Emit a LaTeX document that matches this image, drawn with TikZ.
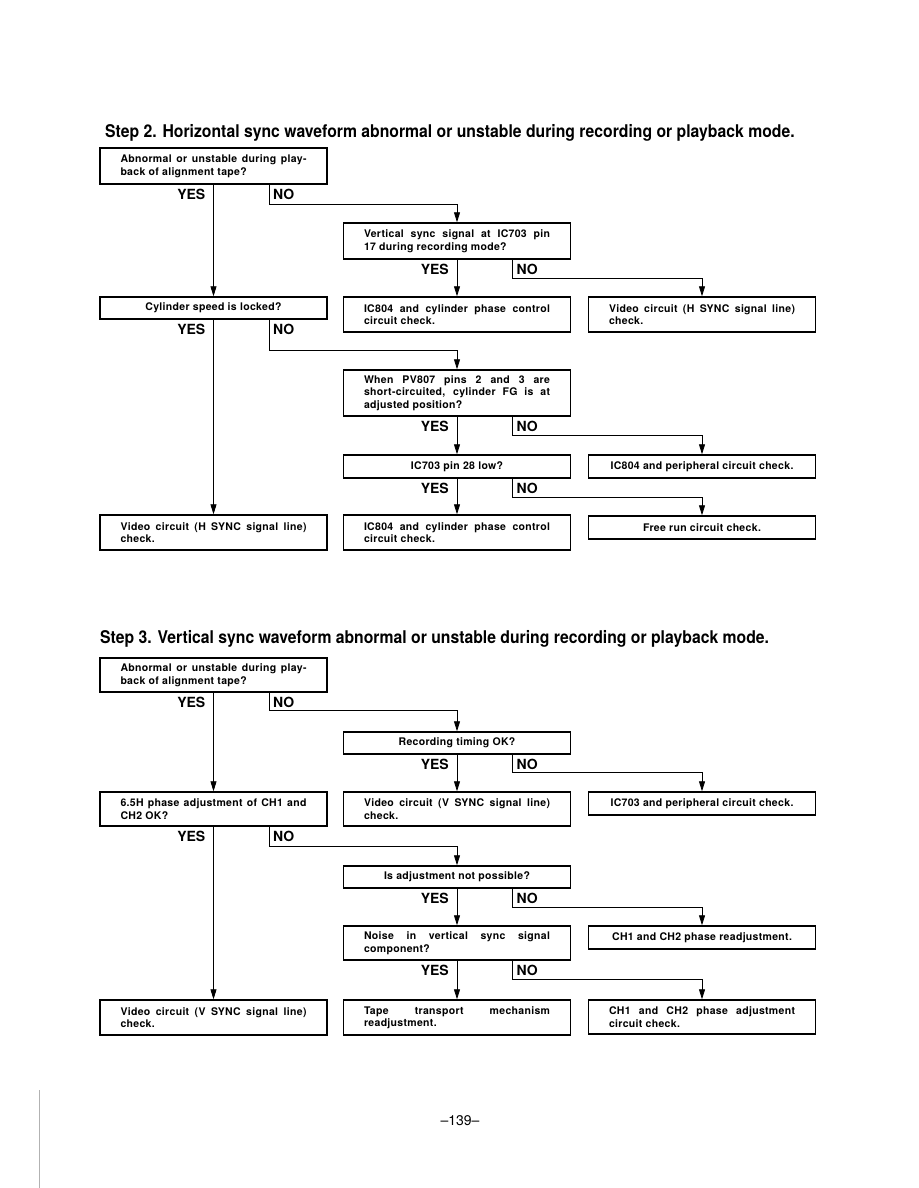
\documentclass[tikz,border=0pt]{standalone}
\usepackage{fontspec}
\setmainfont{TeX Gyre Heros}
\newfontfamily\bxf[LetterSpace=3]{TeX Gyre Heros}
\usetikzlibrary{arrows.meta}
\newcommand\jtwo[2]{\parbox{186pt}{\baselineskip=12.5pt\makebox[186pt][s]{#1}\\#2}}
\newcommand\jthree[3]{\parbox{186pt}{\baselineskip=12.5pt\makebox[186pt][s]{#1}\\\makebox[186pt][s]{#2}\\#3}}
\tikzset{
  box/.style={draw, line width=1.4pt, inner sep=0pt, minimum width=227pt,
    font=\bxf\fontsize{10.5}{12.5}\selectfont\bfseries},
  yn/.style={font=\fontsize{14}{14}\selectfont\bfseries, inner sep=0pt},
  conn/.style={line width=0.8pt},
  arr/.style={conn, -{Triangle[width=6pt,length=10pt]}},
  ttl/.style={font=\fontsize{17.5}{18}\selectfont\bfseries, inner sep=0pt, anchor=base west}
}
\begin{document}
\begin{tikzpicture}[x=1pt,y=-1pt]
\useasboundingbox (0,0) rectangle (918,1188);
% ---------------- Step 2 ----------------
\node[ttl] (t2) at (105,138) {\scalebox{0.9}[1]{Step 2. Horizontal sync waveform abnormal or unstable during recording or playback mode.}};
\node[box, minimum height=36pt] (a1) at (213.5,166) {\jtwo{Abnormal or unstable during play-}{back of alignment tape?}};
\node[box, minimum height=36pt] (b1) at (457,241) {\jtwo{Vertical sync signal at IC703 pin}{17 during recording mode?}};
\node[box, minimum height=22pt] (a2) at (213.5,308) {Cylinder speed is locked?};
\node[box, minimum height=35pt] (b2) at (457,314.5) {\jtwo{IC804 and cylinder phase control}{circuit check.}};
\node[box, minimum height=35pt] (c2) at (702,314.5) {\jtwo{Video circuit (H SYNC signal line)}{check.}};
\node[box, minimum height=46pt] (b3) at (457,393) {\jthree{When PV807 pins 2 and 3 are}{short-circuited, cylinder FG is at}{adjusted position?}};
\node[box, minimum height=23pt] (b4) at (457,466.5) {IC703 pin 28 low?};
\node[box, minimum height=23pt] (c4) at (702,466.5) {IC804 and peripheral circuit check.};
\node[box, minimum height=35pt] (a5) at (213.5,532.5) {\jtwo{Video circuit (H SYNC signal line)}{check.}};
\node[box, minimum height=35pt] (b5) at (457,532.5) {\jtwo{IC804 and cylinder phase control}{circuit check.}};
\node[box, minimum height=23pt] (c5) at (702,527.5) {Free run circuit check.};
% labels
\foreach \n in {a1,b1,a2,b3,b4}{
  \node[yn, anchor=east] (\n y) at ([xshift=-8pt,yshift=-10pt]\n.south) {YES};
  \node[yn, anchor=west] (\n n) at ([xshift=59.5pt,yshift=-10pt]\n.south) {NO};
}
% connectors
\draw[arr] (a1.south) -- (a2.north);
\draw[arr] ([xshift=55.5pt]a1.south) -- ++(0,20) -| (b1.north);
\draw[arr] (b1.south) -- (b2.north);
\draw[arr] ([xshift=55.5pt]b1.south) -- ++(0,19) -| (c2.north);
\draw[arr] (a2.south) -- (a5.north);
\draw[arr] ([xshift=55.5pt]a2.south) -- ++(0,31) -| (b3.north);
\draw[arr] (b3.south) -- (b4.north);
\draw[arr] ([xshift=55.5pt]b3.south) -- ++(0,19) -| (c4.north);
\draw[arr] (b4.south) -- (b5.north);
\draw[arr] ([xshift=55.5pt]b4.south) -- ++(0,19) -| (c5.north);
% ---------------- Step 3 ----------------
\node[ttl] (t3) at (100,643) {\scalebox{0.9}[1]{Step 3. Vertical sync waveform abnormal or unstable during recording or playback mode.}};
\node[box, minimum height=34pt] (d1) at (213.5,675) {\jtwo{Abnormal or unstable during play-}{back of alignment tape?}};
\node[box, minimum height=22pt] (e1) at (457,743) {Recording timing OK?};
\node[box, minimum height=34pt] (d2) at (213.5,809) {\jtwo{6.5H phase adjustment of CH1 and}{CH2 OK?}};
\node[box, minimum height=34pt] (e2) at (457,809) {\jtwo{Video circuit (V SYNC signal line)}{check.}};
\node[box, minimum height=23pt] (f2) at (702,803.5) {IC703 and peripheral circuit check.};
\node[box, minimum height=22pt] (e3) at (457,877) {Is adjustment not possible?};
\node[box, minimum height=34pt] (e4) at (457,943) {\jtwo{Noise in vertical sync signal}{component?}};
\node[box, minimum height=23pt] (f4) at (702,937.5) {CH1 and CH2 phase readjustment.};
\node[box, minimum height=35pt] (d5) at (213.5,1017.5) {\jtwo{Video circuit (V SYNC signal line)}{check.}};
\node[box, minimum height=35pt] (e5) at (457,1017.5) {\jtwo{Tape transport mechanism}{readjustment.}};
\node[box, minimum height=34pt] (f5) at (702,1017) {\jtwo{CH1 and CH2 phase adjustment}{circuit check.}};
\foreach \n in {d1,e1,d2,e3,e4}{
  \node[yn, anchor=east] (\n y) at ([xshift=-8pt,yshift=-10pt]\n.south) {YES};
  \node[yn, anchor=west] (\n n) at ([xshift=59.5pt,yshift=-10pt]\n.south) {NO};
}
\draw[arr] (d1.south) -- (d2.north);
\draw[arr] ([xshift=55.5pt]d1.south) -- ++(0,18) -| (e1.north);
\draw[arr] (e1.south) -- (e2.north);
\draw[arr] ([xshift=55.5pt]e1.south) -- ++(0,18) -| (f2.north);
\draw[arr] (d2.south) -- (d5.north);
\draw[arr] ([xshift=55.5pt]d2.south) -- ++(0,20) -| (e3.north);
\draw[arr] (e3.south) -- (e4.north);
\draw[arr] ([xshift=55.5pt]e3.south) -- ++(0,19) -| (f4.north);
\draw[arr] (e4.south) -- (e5.north);
\draw[arr] ([xshift=55.5pt]e4.south) -- ++(0,19) -| (f5.north);
% page number and margin mark
\node (pg) at (460,1121) {\fontsize{14}{14}\selectfont --139--};
\draw[gray!60, line width=0.6pt] (39,1090) -- (39,1188);
\end{tikzpicture}
\end{document}
